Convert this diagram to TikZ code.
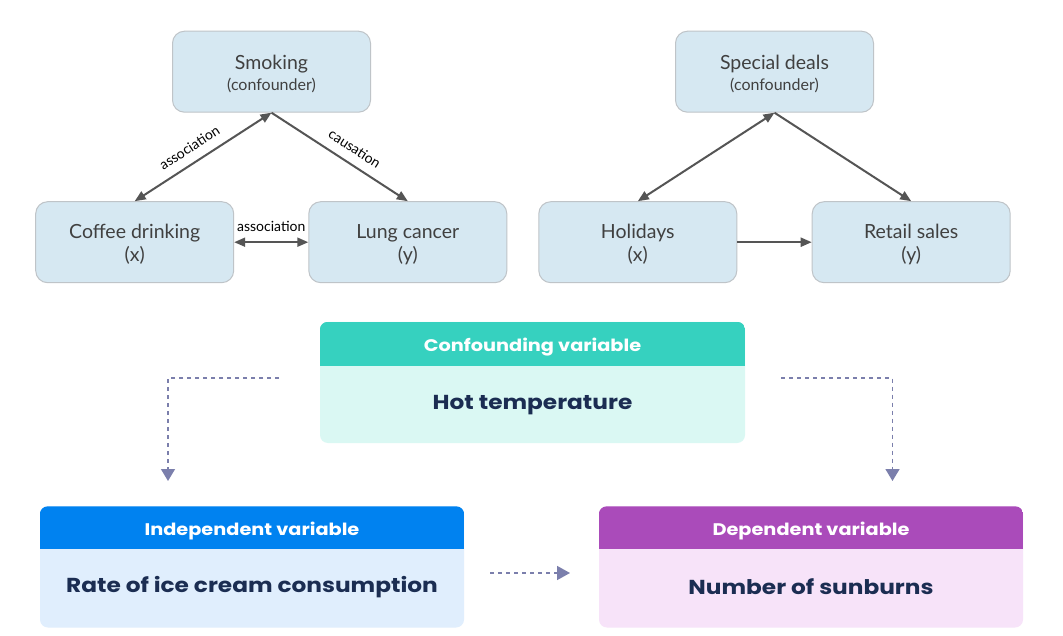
\documentclass[tikz,border=0pt]{standalone}
\usepackage{fontspec}
\usetikzlibrary{arrows.meta,calc}
\newfontfamily\lato{Lato}
\newfontfamily\pop{Poppins}[FakeStretch=1.15]
\definecolor{topfill}{HTML}{D6E8F2}
\definecolor{topborder}{HTML}{BFC4C8}
\definecolor{toptext}{HTML}{404040}
\definecolor{arrowcol}{HTML}{555555}
\definecolor{confhead}{HTML}{36D1BF}
\definecolor{confbody}{HTML}{DAF8F3}
\definecolor{indhead}{HTML}{0082F0}
\definecolor{indbody}{HTML}{E0EEFD}
\definecolor{dephead}{HTML}{AA4BBA}
\definecolor{depbody}{HTML}{F7E3F9}
\definecolor{navy}{HTML}{1B2D52}
\definecolor{dashcol}{HTML}{7B7FAC}
\begin{document}
\begin{tikzpicture}[x=1pt,y=-1pt,
  topbox/.style={draw=topborder, line width=1pt, fill=topfill, rounded corners=12pt,
    minimum width=198pt, minimum height=81pt, inner sep=0pt},
  toptxt/.style={align=center, inner sep=0pt, yshift=-2pt,
    text=toptext, font=\lato\fontsize{19.5}{23}\selectfont},
  conn/.style={draw=arrowcol, line width=2pt, -{Triangle[length=11pt,width=9pt]}},
  biconn/.style={draw=arrowcol, line width=2pt, {Triangle[length=11pt,width=9pt]}-{Triangle[length=11pt,width=9pt]}},
  elabel/.style={text=black, font=\lato\fontsize{14}{16}\selectfont, inner sep=2pt},
  bigbox/.style={rounded corners=8pt, minimum width=424pt, minimum height=121pt, inner sep=0pt},
  headtxt/.style={text=white, font=\pop\bfseries\fontsize{16.8}{19}\selectfont},
  bodytxt/.style={text=navy, font=\pop\bfseries\fontsize{20.2}{23}\selectfont},
  dasharr/.style={draw=dashcol, line width=1.5pt, dash pattern=on 4pt off 4pt,
    -{Triangle[length=12pt,width=14pt]}}
]
\useasboundingbox (0,0) rectangle (1063,636);
\fill[white] (0,0) rectangle (1063,636);

% ---- top left diagram
\node[topbox] (smoke) at (271.5,71.7) {};
\node[toptxt] (smoket) at (smoke) {Smoking\\[-2pt]{\fontsize{16}{19}\selectfont (confounder)}};
\node[topbox] (coffee) at (134.7,242.2) {};
\node[toptxt] (coffeet) at (coffee) {Coffee drinking\\(x)};
\node[topbox] (lung) at (407.8,242.2) {};
\node[toptxt] (lungt) at (lung) {Lung cancer\\(y)};
\draw[biconn] (coffee.north) -- node[elabel, sloped, above=7pt, pos=0.46] {association} (smoke.south);
\draw[conn] (smoke.south) -- node[elabel, sloped, above=7pt, pos=0.55] {causation} (lung.north);
\draw[biconn] (coffee.east) -- node[elabel, above=8pt] {association} (lung.west);

% ---- top right diagram
\node[topbox] (deals) at (774.5,71.7) {};
\node[toptxt] (dealst) at (deals) {Special deals\\[-2pt]{\fontsize{16}{19}\selectfont (confounder)}};
\node[topbox] (holi) at (637.8,242.2) {};
\node[toptxt] (holit) at (holi) {Holidays\\(x)};
\node[topbox] (retail) at (911.2,242.2) {};
\node[toptxt] (retailt) at (retail) {Retail sales\\(y)};
\draw[biconn] (holi.north) -- (deals.south);
\draw[conn] (deals.south) -- (retail.north);
\draw[conn] (holi.east) -- (retail.west);

% ---- bottom diagram
\node[bigbox, fill=confbody, minimum width=425pt] (conf) at (532.5,382.5) {};
\begin{scope}
  \clip[rounded corners=8pt] (conf.north west) rectangle (conf.south east);
  \fill[confhead] (conf.north west) rectangle ($(conf.north east)+(0,44)$);
\end{scope}
\node[headtxt] (confh) at (532.5,347.5) {Confounding variable};
\node[bodytxt] (confb) at (532.5,405) {Hot temperature};

\node[bigbox, fill=indbody] (ind) at (252,567) {};
\begin{scope}
  \clip[rounded corners=8pt] (ind.north west) rectangle (ind.south east);
  \fill[indhead] (ind.north west) rectangle ($(ind.north east)+(0,43)$);
\end{scope}
\node[headtxt] (indh) at (252,531.5) {Independent variable};
\node[bodytxt] (indb) at (252,587) {Rate of ice cream consumption};

\node[bigbox, fill=depbody] (dep) at (811,567) {};
\begin{scope}
  \clip[rounded corners=8pt] (dep.north west) rectangle (dep.south east);
  \fill[dephead] (dep.north west) rectangle ($(dep.north east)+(0,43)$);
\end{scope}
\node[headtxt] (deph) at (811,531.5) {Dependent variable};
\node[bodytxt] (depb) at (811,587) {Number of sunburns};

\coordinate (l0) at (279,378);
\coordinate (l1) at (168,481);
\coordinate (r0) at (781,378);
\coordinate (r1) at (892.5,481);
\coordinate (m0) at (490,573);
\coordinate (m1) at (570,573);
\draw[dasharr] (l0) -| (l1);
\draw[dasharr] (r0) -| (r1);
\draw[dasharr, -{Triangle[length=13pt,width=14pt]}] (m0) -- (m1);
\end{tikzpicture}
\end{document}
